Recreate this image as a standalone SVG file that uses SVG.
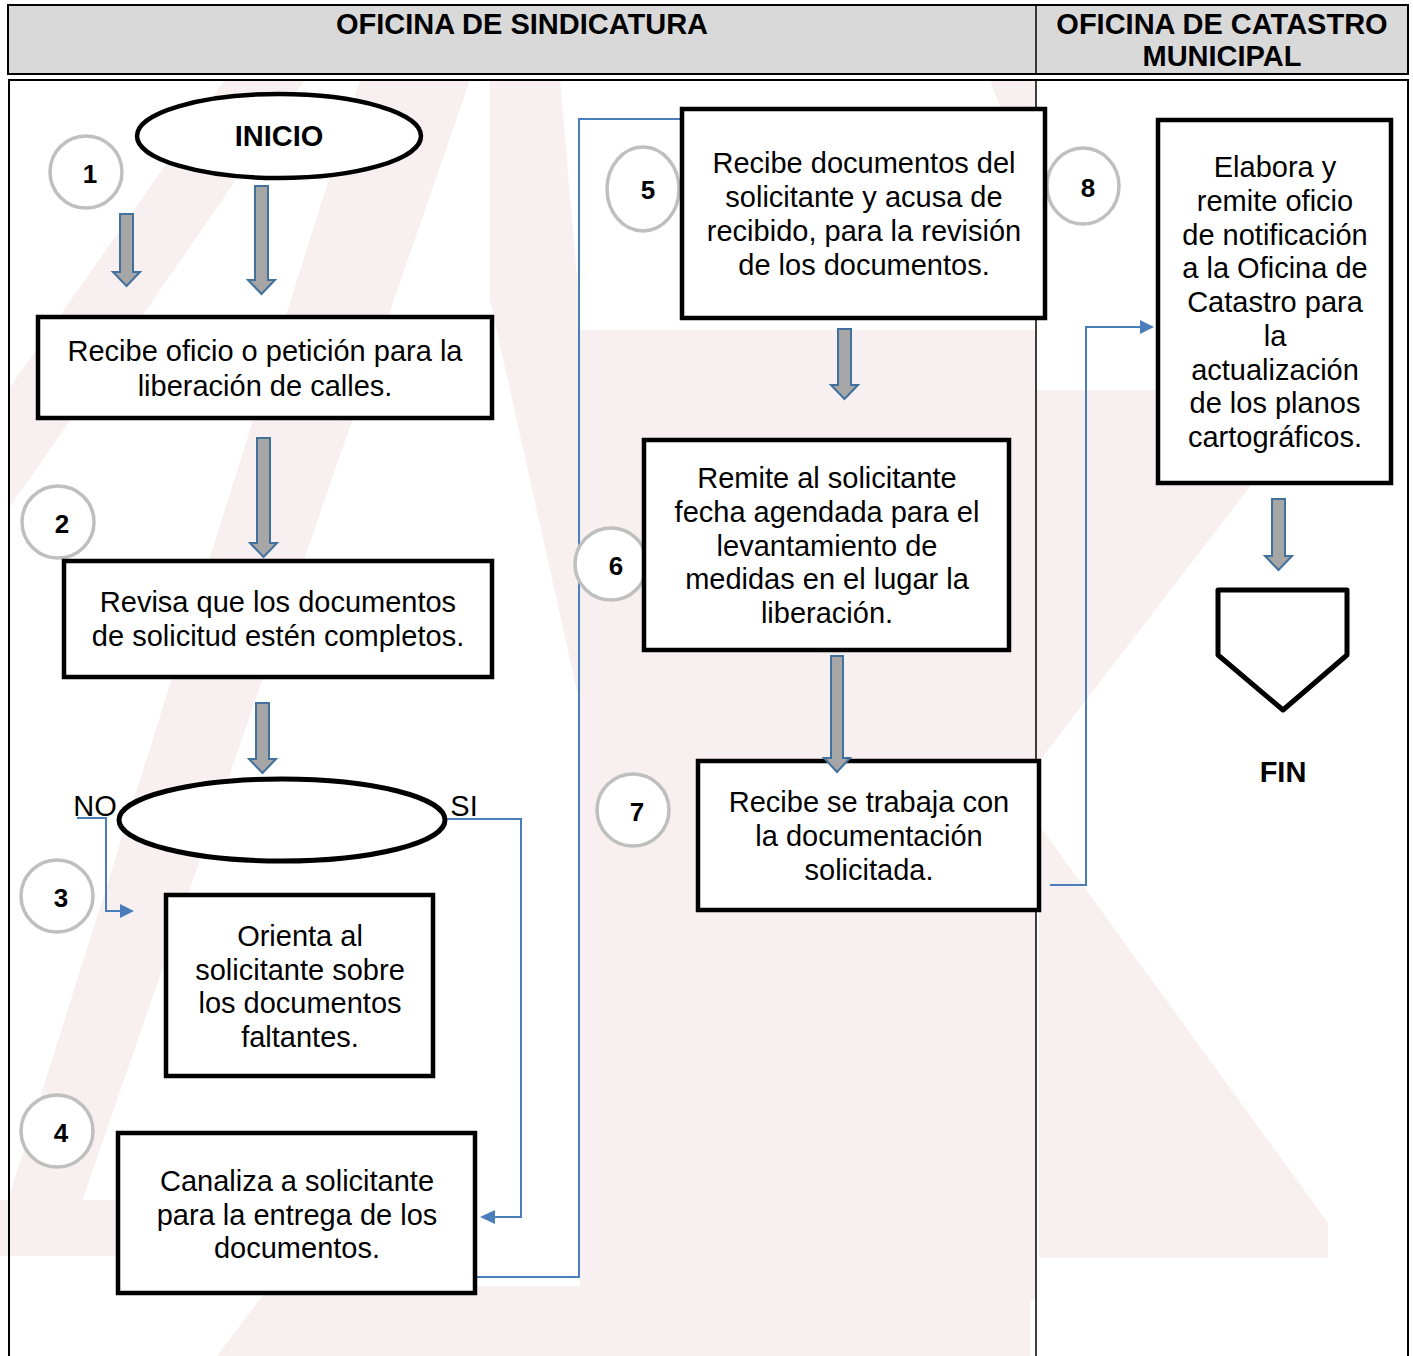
<svg xmlns="http://www.w3.org/2000/svg" width="1413" height="1356" viewBox="0 0 1413 1356">
<defs>
<style>
.t{font-family:"Liberation Sans",Arial,sans-serif;font-size:29px;fill:#000;text-anchor:middle}
.b{font-weight:bold}
.box{fill:#fff;stroke:#000;stroke-width:4.5}
.num{fill:#fff;stroke:#bfbfbf;stroke-width:3.5}
.nt{font-family:"Liberation Sans",Arial,sans-serif;font-size:26px;font-weight:bold;text-anchor:middle}
.ba{fill:#a6a6a6;stroke:#41719c;stroke-width:2}
.con{fill:none;stroke:#4a7ebb;stroke-width:2}
.wm{fill:#f7eff0}
</style>
</defs>
<rect x="0" y="0" width="1413" height="1356" fill="#fff"/>

<g id="watermark">
<polygon class="wm" points="225,80 305,80 8,510 8,390"/>
<polygon class="wm" points="360,80 470,80 72,1230 8,1230 8,1200"/>
<polygon class="wm" points="580,330 1036,330 1036,1300 580,1300"/>
<polygon class="wm" points="1036,390 1324,390 1040,760 1036,760"/>
<polygon class="wm" points="1039,825 1328,1223 1328,1258 1039,1258"/>
<polygon class="wm" points="0,1200 250,1200 250,1256 0,1256"/>
<polygon class="wm" points="270,1286 1030,1286 1030,1356 217,1356"/>
<polygon class="wm" points="490,80 560,80 579,300 579,700 490,300"/>
<polygon class="wm" points="990,80 1036,80 1036,200"/>
</g>

<g id="header">
<rect x="8" y="5" width="1400" height="69" fill="#d9d9d9" stroke="#000" stroke-width="2"/>
<line x1="1036" y1="5" x2="1036" y2="74" stroke="#000" stroke-width="1.5"/>
<text class="t b" x="522" y="34">OFICINA DE SINDICATURA</text>
<text class="t b" x="1222" y="34">OFICINA DE CATASTRO</text>
<text class="t b" x="1222" y="66">MUNICIPAL</text>
</g>
<g id="body-frame" fill="none" stroke="#000" stroke-width="2">
<path d="M9,1356 V80 H1408 V1356"/>
<line x1="1036" y1="80" x2="1036" y2="1356" stroke-width="1.5"/>
</g>

<g id="connectors">
<polyline class="con" points="77,818 106,818 106,911 122,911"/>
<path d="M120,904 L134,911 L120,918 z" fill="#4a7ebb"/>
<polyline class="con" points="447,819 521,819 521,1217 494,1217"/>
<path d="M495,1210 L480,1217 L495,1224 z" fill="#4a7ebb"/>
<polyline class="con" points="473,1277 579,1277 579,119 681,119"/>
<polyline class="con" points="1050,885 1086,885 1086,327 1141,327"/>
<path d="M1140,320 L1154,327 L1140,334 z" fill="#4a7ebb"/>
</g>

<g id="inicio">
<ellipse cx="279" cy="136" rx="142" ry="42" fill="#fff" stroke="#000" stroke-width="4.5"/>
<text class="t b" x="279" y="146">INICIO</text>
</g>
<g id="n1"><circle class="num" cx="86" cy="172" r="36"/><text class="nt" x="90" y="183">1</text></g>
<g id="n2"><circle class="num" cx="58" cy="522" r="36"/><text class="nt" x="62" y="533">2</text></g>
<g id="n3"><circle class="num" cx="57" cy="896" r="36"/><text class="nt" x="61" y="907">3</text></g>
<g id="n4"><circle class="num" cx="57" cy="1131" r="36"/><text class="nt" x="61" y="1142">4</text></g>
<g id="n5"><ellipse class="num" cx="643" cy="189" rx="36" ry="42"/><text class="nt" x="648" y="199">5</text></g>
<g id="n6"><circle class="num" cx="611" cy="564" r="36"/><text class="nt" x="616" y="575">6</text></g>
<g id="n7"><circle class="num" cx="633" cy="810" r="36"/><text class="nt" x="637" y="821">7</text></g>
<g id="n8"><ellipse class="num" cx="1083" cy="186" rx="36" ry="38"/><text class="nt" x="1088" y="197">8</text></g>

<g id="box1">
<rect class="box" x="38" y="317" width="454" height="101"/>
<text class="t" x="265" y="361">Recibe oficio o petición para la</text>
<text class="t" x="265" y="396">liberación de calles.</text>
</g>
<g id="box2">
<rect class="box" x="64" y="561" width="428" height="116"/>
<text class="t" x="278" y="612">Revisa que los documentos</text>
<text class="t" x="278" y="646">de solicitud estén completos.</text>
</g>
<g id="decision">
<ellipse cx="282" cy="820" rx="163" ry="41" fill="#fff" stroke="#000" stroke-width="5"/>
</g>
<text class="t" x="95" y="816">NO</text>
<text class="t" x="464" y="816">SI</text>
<g id="box3">
<rect class="box" x="166" y="895" width="267" height="181"/>
<text class="t" x="300" y="946">Orienta al</text>
<text class="t" x="300" y="980">solicitante sobre</text>
<text class="t" x="300" y="1013">los documentos</text>
<text class="t" x="300" y="1047">faltantes.</text>
</g>
<g id="box4">
<rect class="box" x="118" y="1133" width="357" height="160"/>
<text class="t" x="297" y="1191">Canaliza a solicitante</text>
<text class="t" x="297" y="1225">para la entrega de los</text>
<text class="t" x="297" y="1258">documentos.</text>
</g>
<g id="box5">
<rect class="box" x="682" y="109" width="363" height="209"/>
<text class="t" x="864" y="173">Recibe documentos del</text>
<text class="t" x="864" y="207">solicitante y acusa de</text>
<text class="t" x="864" y="241">recibido, para la revisión</text>
<text class="t" x="864" y="275">de los documentos.</text>
</g>
<g id="box6">
<rect class="box" x="644" y="440" width="365" height="210"/>
<text class="t" x="827" y="488">Remite al solicitante</text>
<text class="t" x="827" y="522">fecha agendada para el</text>
<text class="t" x="827" y="556">levantamiento de</text>
<text class="t" x="827" y="589">medidas en el lugar la</text>
<text class="t" x="827" y="623">liberación.</text>
</g>
<g id="box7">
<rect class="box" x="698" y="761" width="341" height="149"/>
<text class="t" x="869" y="812">Recibe se trabaja con</text>
<text class="t" x="869" y="846">la documentación</text>
<text class="t" x="869" y="880">solicitada.</text>
</g>
<g id="box8">
<rect class="box" x="1158" y="120" width="233" height="363"/>
<text class="t" x="1275" y="177">Elabora y</text>
<text class="t" x="1275" y="211">remite oficio</text>
<text class="t" x="1275" y="245">de notificación</text>
<text class="t" x="1275" y="278">a la Oficina de</text>
<text class="t" x="1275" y="312">Catastro para</text>
<text class="t" x="1275" y="346">la</text>
<text class="t" x="1275" y="380">actualización</text>
<text class="t" x="1275" y="413">de los planos</text>
<text class="t" x="1275" y="447">cartográficos.</text>
</g>
<g id="fin">
<polygon points="1218,590 1347,590 1347,655 1283,710 1218,655" fill="#fff" stroke="#000" stroke-width="5" stroke-linejoin="round"/>
<text class="t b" x="1283" y="782">FIN</text>
</g>

<g id="block-arrows">
<path class="ba" d="M120,214 H133 V272 H140 L126.5,286 L113,272 H120 Z"/>
<path class="ba" d="M255,186 H268 V280 H275 L261.5,294 L248,280 H255 Z"/>
<path class="ba" d="M257,438 H270 V543 H277 L263.5,557 L250,543 H257 Z"/>
<path class="ba" d="M256,703 H269 V759 H276 L262.5,773 L249,759 H256 Z"/>
<path class="ba" d="M838,329 H851 V385 H858 L844.5,399 L831,385 H838 Z"/>
<path class="ba" d="M831,656 H843 V758 H850 L837,772 L824,758 H831 Z"/>
<path class="ba" d="M1272,499 H1285 V556 H1292 L1278.5,570 L1265,556 H1272 Z"/>
</g>
</svg>
